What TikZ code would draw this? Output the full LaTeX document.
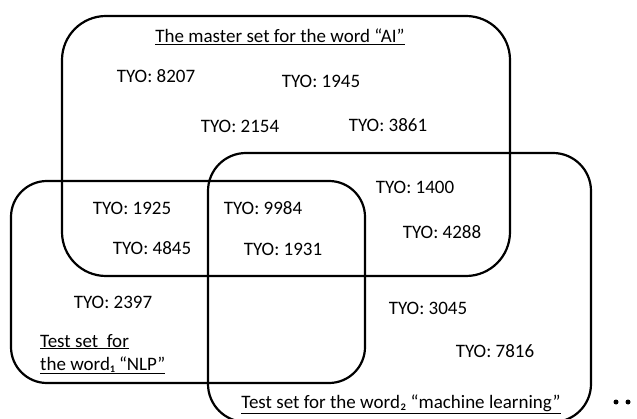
\documentclass[tikz,border=0pt]{standalone}
\usepackage{fontspec}
\setmainfont{Carlito}
\usetikzlibrary{backgrounds}
\pgfdeclarelayer{edgelayer}
\pgfdeclarelayer{nodelayer}
\pgfsetlayers{edgelayer,nodelayer,main}
\tikzstyle{none}=[inner sep=0pt]
\tikzstyle{setbox}=[-,line width=2.2pt,rounded corners=38pt]
\tikzstyle{member}=[inner sep=0pt,font=\fontsize{19}{23}\selectfont]
\tikzstyle{setname}=[member,align=left]
\tikzstyle{moredot}=[circle,fill=black,inner sep=0pt,minimum size=5pt]

\begin{document}
\begin{tikzpicture}[x=1pt,y=-1pt]
	\useasboundingbox (0,0) rectangle (637,419);
	\begin{pgfonlayer}{nodelayer}
		% set names
		\node [style=setname] (AI) at (280, 37) {\underline{The master set for the word “AI”}};
		\node [style=setname, anchor=west] (NLP) at (40, 354) {\underline{Test set\ \ for}\\\underline{the word₁ “NLP”}};
		\node [style=setname] (ML) at (401, 404) {\underline{Test set for the word₂ “machine learning”}};

		% members
		\node [style=member] (m8207) at (156, 76) {TYO: 8207};
		\node [style=member] (m1945) at (321, 81) {TYO: 1945};
		\node [style=member] (m2154) at (240, 126) {TYO: 2154};
		\node [style=member] (m3861) at (388, 125) {TYO: 3861};
		\node [style=member] (m1400) at (415, 187) {TYO: 1400};
		\node [style=member] (m1925) at (132, 208) {TYO: 1925};
		\node [style=member] (m9984) at (263, 208) {TYO: 9984};
		\node [style=member] (m4288) at (442, 232) {TYO: 4288};
		\node [style=member] (m4845) at (152, 248) {TYO: 4845};
		\node [style=member] (m1931) at (283, 249) {TYO: 1931};
		\node [style=member] (m2397) at (113, 302) {TYO: 2397};
		\node [style=member] (m3045) at (428, 308) {TYO: 3045};
		\node [style=member] (m7816) at (495, 351) {TYO: 7816};

		\node [style=moredot] (dot1) at (616, 402) {};
		\node [style=moredot] (dot2) at (628, 402) {};

		% box corners
		\node [style=none] (Atl) at (62, 16) {};
		\node [style=none] (Atr) at (510, 16) {};
		\node [style=none] (Abr) at (510, 276) {};
		\node [style=none] (Abl) at (62, 276) {};

		\node [style=none] (Ntl) at (11, 181) {};
		\node [style=none] (Ntr) at (365, 181) {};
		\node [style=none] (Nbr) at (365, 383) {};
		\node [style=none] (Nbl) at (11, 383) {};

		\node [style=none] (Mtl) at (208, 153) {};
		\node [style=none] (Mtr) at (591, 153) {};
		\node [style=none] (Mbr) at (591, 422) {};
		\node [style=none] (Mbl) at (208, 422) {};
	\end{pgfonlayer}
	\begin{pgfonlayer}{edgelayer}
		\draw [style=setbox, rounded corners=44pt] (Atl.center) -- (Atr.center) -- (Abr.center) -- (Abl.center) -- cycle;
		\draw [style=setbox, rounded corners=36pt] (Ntl.center) -- (Ntr.center) -- (Nbr.center) -- (Nbl.center) -- cycle;
		\draw [style=setbox, rounded corners=38pt] (Mtl.center) -- (Mtr.center) -- (Mbr.center) -- (Mbl.center) -- cycle;
	\end{pgfonlayer}
\end{tikzpicture}
\end{document}
